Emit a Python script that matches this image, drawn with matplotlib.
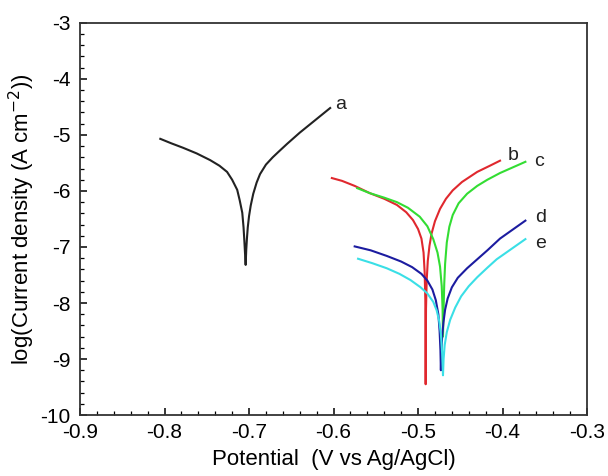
import matplotlib.pyplot as plt
from matplotlib.ticker import MultipleLocator

plt.rcParams['font.family'] = ['Liberation Sans', 'DejaVu Sans']
plt.rcParams['axes.unicode_minus'] = False

# potential (V vs Ag/AgCl) and log(current density)
a_E = [-0.805, -0.792, -0.778, -0.762, -0.746, -0.735, -0.726, -0.720, -0.714,
       -0.711, -0.708, -0.7065, -0.7055, -0.7048, -0.704,
       -0.7033, -0.7025, -0.7015, -0.700, -0.698, -0.695, -0.691, -0.687,
       -0.680, -0.672, -0.665, -0.655, -0.640, -0.622, -0.604]
a_I = [-5.07, -5.15, -5.23, -5.33, -5.45, -5.55, -5.66, -5.80, -5.98,
       -6.17, -6.39, -6.65, -6.90, -7.10, -7.32,
       -7.05, -6.85, -6.65, -6.45, -6.26, -6.05, -5.85, -5.70,
       -5.53, -5.40, -5.30, -5.16, -4.96, -4.74, -4.52]

b_E = [-0.602, -0.590, -0.575, -0.557, -0.540, -0.525, -0.514, -0.506, -0.500,
       -0.496, -0.4935, -0.4922, -0.4914, -0.491,
       -0.4906, -0.4898, -0.4885, -0.4865, -0.484, -0.480, -0.474, -0.467,
       -0.459, -0.448, -0.430, -0.415, -0.403]
b_I = [-5.77, -5.82, -5.91, -6.04, -6.14, -6.25, -6.38, -6.52, -6.68,
       -6.85, -7.10, -7.45, -7.95, -9.45,
       -8.10, -7.60, -7.25, -6.98, -6.76, -6.54, -6.32, -6.14,
       -5.99, -5.84, -5.66, -5.55, -5.46]

c_E = [-0.572, -0.557, -0.540, -0.525, -0.512, -0.498, -0.489, -0.482, -0.477,
       -0.474, -0.472, -0.471, -0.4705,
       -0.4698, -0.469, -0.468, -0.466, -0.463, -0.459, -0.452, -0.442,
       -0.430, -0.418, -0.403, -0.388, -0.373]
c_I = [-5.95, -6.04, -6.12, -6.20, -6.30, -6.46, -6.63, -6.86, -7.10,
       -7.35, -7.70, -8.10, -8.60,
       -8.10, -7.65, -7.30, -6.92, -6.64, -6.43, -6.22, -6.05,
       -5.91, -5.80, -5.68, -5.58, -5.48]

d_E = [-0.575, -0.556, -0.537, -0.520, -0.507, -0.496, -0.489, -0.483, -0.479,
       -0.476, -0.4745, -0.4735, -0.473,
       -0.4725, -0.4715, -0.470, -0.468, -0.465, -0.460, -0.453, -0.442,
       -0.430, -0.418, -0.403, -0.388, -0.373]
d_I = [-6.99, -7.06, -7.16, -7.26, -7.36, -7.48, -7.60, -7.76, -7.95,
       -8.20, -8.50, -8.85, -9.20,
       -8.90, -8.60, -8.35, -8.12, -7.92, -7.72, -7.55, -7.38,
       -7.22, -7.06, -6.85, -6.69, -6.53]

e_E = [-0.571, -0.554, -0.537, -0.522, -0.509, -0.497, -0.489, -0.482, -0.478,
       -0.475, -0.473, -0.4715, -0.4705,
       -0.4698, -0.4685, -0.466, -0.462, -0.456, -0.449, -0.440,
       -0.430, -0.418, -0.407, -0.390, -0.373]
e_I = [-7.21, -7.29, -7.38, -7.48, -7.59, -7.72, -7.83, -7.98, -8.13,
       -8.32, -8.55, -8.90, -9.29,
       -9.00, -8.75, -8.52, -8.30, -8.08, -7.88, -7.70,
       -7.54, -7.37, -7.22, -7.04, -6.86]

curves = [
    ("a", a_E, a_I, "#222222", (-0.598, -4.46)),
    ("b", b_E, b_I, "#e0282e", (-0.394, -5.36)),
    ("c", c_E, c_I, "#33dd33", (-0.363, -5.48)),
    ("d", d_E, d_I, "#1c1ca0", (-0.361, -6.48)),
    ("e", e_E, e_I, "#3adfe6", (-0.362, -6.93)),
]

fig = plt.figure(figsize=(6.08, 4.76), dpi=100)
ax = fig.add_axes([0.1316, 0.128, 0.834, 0.824])

for name, E, I, col, pos in curves:
    ax.plot(E, I, color=col, linewidth=1.5)
    ax.text(pos[0], pos[1], name, fontsize=14, ha="left", va="center", color="#222222")

ax.set_xlim(-0.9, -0.3)
ax.set_ylim(-10, -3)
ax.xaxis.set_major_locator(MultipleLocator(0.1))
ax.xaxis.set_minor_locator(MultipleLocator(0.02))
ax.yaxis.set_major_locator(MultipleLocator(1))
ax.yaxis.set_minor_locator(MultipleLocator(0.2))
ax.xaxis.set_major_formatter(lambda v, p: "%.1f" % v)
ax.tick_params(which="both", direction="in", top=False, right=False, labelsize=15)
ax.tick_params(which="major", length=5, width=1.1)
ax.tick_params(which="minor", length=3, width=0.9)
ax.tick_params(axis="x", which="major", pad=6)
ax.tick_params(axis="y", which="major", pad=7)
for s in ax.spines.values():
    s.set_linewidth(1.3)
    s.set_color("#333333")

ax.set_xlabel("Potential  (V vs Ag/AgCl)", fontsize=16, labelpad=5)
ax.set_ylabel(r"log(Current density (A cm$^{-2}$))", fontsize=16, labelpad=2)

fig.savefig("out.png", dpi=100)
